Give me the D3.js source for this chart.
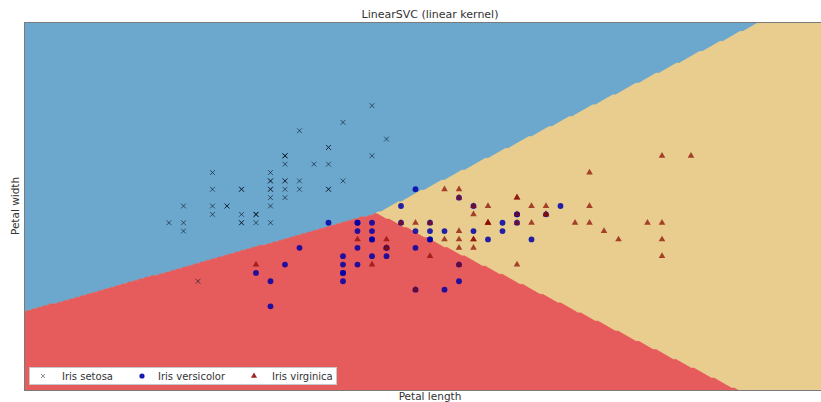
<!DOCTYPE html>
<html>
<head>
<meta charset="utf-8">
<script src="https://cdn.jsdelivr.net/npm/d3@7"></script>
<style>
  body { margin: 0; background: #fff; }
  text { font-family: "DejaVu Sans", sans-serif; fill: #333; }
</style>
</head>
<body>
<svg id="chart" width="821" height="402"></svg>
<script>
// Iris measurements (length, width) per species
const classNames = ["Iris setosa", "Iris versicolor", "Iris virginica"];

const setosa = [
  [5.1,3.5],[4.9,3.0],[4.7,3.2],[4.6,3.1],[5.0,3.6],[5.4,3.9],[4.6,3.4],[5.0,3.4],[4.4,2.9],[4.9,3.1],
  [5.4,3.7],[4.8,3.4],[4.8,3.0],[4.3,3.0],[5.8,4.0],[5.7,4.4],[5.4,3.9],[5.1,3.5],[5.7,3.8],[5.1,3.8],
  [5.4,3.4],[5.1,3.7],[4.6,3.6],[5.1,3.3],[4.8,3.4],[5.0,3.0],[5.0,3.4],[5.2,3.5],[5.2,3.4],[4.7,3.2],
  [4.8,3.1],[5.4,3.4],[5.2,4.1],[5.5,4.2],[4.9,3.1],[5.0,3.2],[5.5,3.5],[4.9,3.1],[4.4,3.0],[5.1,3.4],
  [5.0,3.5],[4.5,2.3],[4.4,3.2],[5.0,3.5],[5.1,3.8],[4.8,3.0],[5.1,3.8],[4.6,3.2],[5.3,3.7],[5.0,3.3]
];

const versicolor = [
  [7.0,3.2],[6.4,3.2],[6.9,3.1],[5.5,2.3],[6.5,2.8],[5.7,2.8],[6.3,3.3],[4.9,2.4],[6.6,2.9],[5.2,2.7],
  [5.0,2.0],[5.9,3.0],[6.0,2.2],[6.1,2.9],[5.6,2.9],[6.7,3.1],[5.6,3.0],[5.8,2.7],[6.2,2.2],[5.6,2.5],
  [5.9,3.2],[6.1,2.8],[6.3,2.5],[6.1,2.8],[6.4,2.9],[6.6,3.0],[6.8,2.8],[6.7,3.0],[6.0,2.9],[5.7,2.6],
  [5.5,2.4],[5.5,2.4],[5.8,2.7],[6.0,2.7],[5.4,3.0],[6.0,3.4],[6.7,3.1],[6.3,2.3],[5.6,3.0],[5.5,2.5],
  [5.5,2.6],[6.1,3.0],[5.8,2.6],[5.0,2.3],[5.6,2.7],[5.7,3.0],[5.7,2.9],[6.2,2.9],[5.1,2.5],[5.7,2.8]
];

const virginica = [
  [6.3,3.3],[5.8,2.7],[7.1,3.0],[6.3,2.9],[6.5,3.0],[7.6,3.0],[4.9,2.5],[7.3,2.9],[6.7,2.5],[7.2,3.6],
  [6.5,3.2],[6.4,2.7],[6.8,3.0],[5.7,2.5],[5.8,2.8],[6.4,3.2],[6.5,3.0],[7.7,3.8],[7.7,2.6],[6.0,2.2],
  [6.9,3.2],[5.6,2.8],[7.7,2.8],[6.3,2.7],[6.7,3.3],[7.2,3.2],[6.2,2.8],[6.1,3.0],[6.4,2.8],[7.2,3.0],
  [7.4,2.8],[7.9,3.8],[6.4,2.8],[6.3,2.8],[6.1,2.6],[7.7,3.0],[6.3,3.4],[6.4,3.1],[6.0,3.0],[6.9,3.1],
  [6.7,3.1],[6.9,3.1],[5.8,2.7],[6.8,3.2],[6.7,3.3],[6.7,3.0],[6.3,2.5],[6.5,3.0],[6.2,3.4],[5.9,3.0]
];

// One-vs-rest linear decision functions: f_k = coefLength*x + coefWidth*y + intercept
const coefLength = [-0.600, 0.372, 0.747];
const coefWidth  = [ 1.200, -0.800, -0.358];
const intercept  = [-1.200, -0.542, -4.069];

// Mesh over which the classifier is evaluated
const xDomain = [3.3, 8.9];
const yDomain = [1.0, 5.4];
const meshStep = 0.02;

const regionColors = ["#6ca7cd", "#e65b5b", "#e8cd8f"];

const titleText = "LinearSVC (linear kernel)";
const xLabel = "Petal length";
const yLabel = "Petal width";

// ---------------------------------------------------------------
const svg = d3.select("#chart");
const plot = { left: 24, right: 836, top: 22, bottom: 390 };

const x = d3.scaleLinear().domain(xDomain).range([plot.left, plot.right]);
const y = d3.scaleLinear().domain(yDomain).range([plot.bottom, plot.top]);

svg.append("clipPath").attr("id", "plotClip")
  .append("rect")
  .attr("x", plot.left).attr("y", plot.top)
  .attr("width", plot.right - plot.left).attr("height", plot.bottom - plot.top);

// Evaluate the classifier on the mesh
const nx = Math.round((xDomain[1] - xDomain[0]) / meshStep) + 1;
const ny = Math.round((yDomain[1] - yDomain[0]) / meshStep) + 1;
const predicted = new Int8Array(nx * ny);
for (let j = 0; j < ny; j++) {
  const yy = yDomain[0] + j * meshStep;
  for (let i = 0; i < nx; i++) {
    const xx = xDomain[0] + i * meshStep;
    let best = 0, bestVal = -Infinity;
    for (let k = 0; k < classNames.length; k++) {
      const v = coefLength[k] * xx + coefWidth[k] * yy + intercept[k];
      if (v > bestVal) { bestVal = v; best = k; }
    }
    predicted[i + j * nx] = best;
  }
}

// Mesh cell coordinates -> data -> pixels
const meshProjection = d3.geoTransform({
  point(gx, gy) {
    this.stream.point(
      x(xDomain[0] + (gx - 0.5) * meshStep),
      y(yDomain[0] + (gy - 0.5) * meshStep)
    );
  }
});
const meshPath = d3.geoPath(meshProjection);

const regions = svg.append("g").attr("clip-path", "url(#plotClip)");
regions.append("rect")
  .attr("x", plot.left).attr("y", plot.top)
  .attr("width", plot.right - plot.left).attr("height", plot.bottom - plot.top)
  .attr("fill", regionColors[2]);

const contourGen = d3.contours().size([nx, ny]).thresholds([0.5]);
classNames.forEach((name, k) => {
  const mask = Array.from(predicted, c => (c === k ? 1 : 0));
  const shape = contourGen(mask)[0];
  regions.append("path")
    .attr("d", meshPath(shape))
    .attr("fill", regionColors[k])
    .attr("stroke", regionColors[k])
    .attr("stroke-width", 0.4);
});

// Markers
const crossPath = "M-2.4,-2.4L2.4,2.4M-2.4,2.4L2.4,-2.4";
const trianglePath = d3.symbol(d3.symbolTriangle, 19)();

const markerStyles = [
  sel => sel.append("path").attr("d", crossPath)
            .attr("fill", "none").attr("stroke", "#0d1b2e").attr("stroke-opacity", 0.65).attr("stroke-width", 1),
  sel => sel.append("circle").attr("r", 2.9)
            .attr("fill", "#0000a8").attr("fill-opacity", 0.85),
  sel => sel.append("path").attr("d", trianglePath)
            .attr("fill", "#8b0a00").attr("fill-opacity", 0.72)
];

const species = [setosa, versicolor, virginica];
const pointLayer = svg.append("g").attr("clip-path", "url(#plotClip)");
species.forEach((pts, k) => {
  const g = pointLayer.append("g");
  const marks = g.selectAll("g").data(pts).join("g")
    .attr("transform", d => `translate(${x(d[0])},${y(d[1])})`);
  markerStyles[k](marks);
});

// Axes frame
svg.append("rect")
  .attr("x", plot.left + 0.5).attr("y", plot.top + 0.5)
  .attr("width", plot.right - plot.left).attr("height", plot.bottom - plot.top)
  .attr("fill", "none").attr("stroke", "#7a7a7a").attr("stroke-width", 1);

// Title and axis labels
svg.append("text")
  .attr("x", (plot.left + plot.right) / 2).attr("y", 18)
  .attr("text-anchor", "middle").attr("font-size", 11)
  .text(titleText);

svg.append("text")
  .attr("x", (plot.left + plot.right) / 2).attr("y", 400)
  .attr("text-anchor", "middle").attr("font-size", 10.5)
  .text(xLabel);

svg.append("text")
  .attr("transform", `translate(19,${(plot.top + plot.bottom) / 2}) rotate(-90)`)
  .attr("text-anchor", "middle").attr("font-size", 10.5)
  .text(yLabel);

// Legend (three columns)
const legend = svg.append("g");
legend.append("rect")
  .attr("x", 29.5).attr("y", 367.5).attr("width", 307).attr("height", 17)
  .attr("fill", "#fff").attr("stroke", "#c8c8c8").attr("stroke-width", 1);

const legendMarkerX = [43, 142, 254];
const legendTextX = [62, 158, 272];
classNames.forEach((name, k) => {
  const m = legend.append("g").attr("transform", `translate(${legendMarkerX[k]},376)`);
  if (k === 0) {
    m.append("path").attr("d", "M-2,-2L2,2M-2,2L2,-2")
      .attr("fill", "none").attr("stroke", "#000").attr("stroke-opacity", 0.45).attr("stroke-width", 1);
  } else if (k === 1) {
    m.append("circle").attr("r", 2.6).attr("fill", "#0000a8").attr("fill-opacity", 0.9);
  } else {
    m.append("path").attr("d", d3.symbol(d3.symbolTriangle, 16)())
      .attr("fill", "#8b0000").attr("fill-opacity", 0.85);
  }
  legend.append("text")
    .attr("x", legendTextX[k]).attr("y", 379.5)
    .attr("font-size", 10)
    .text(name);
});
</script>
</body>
</html>
